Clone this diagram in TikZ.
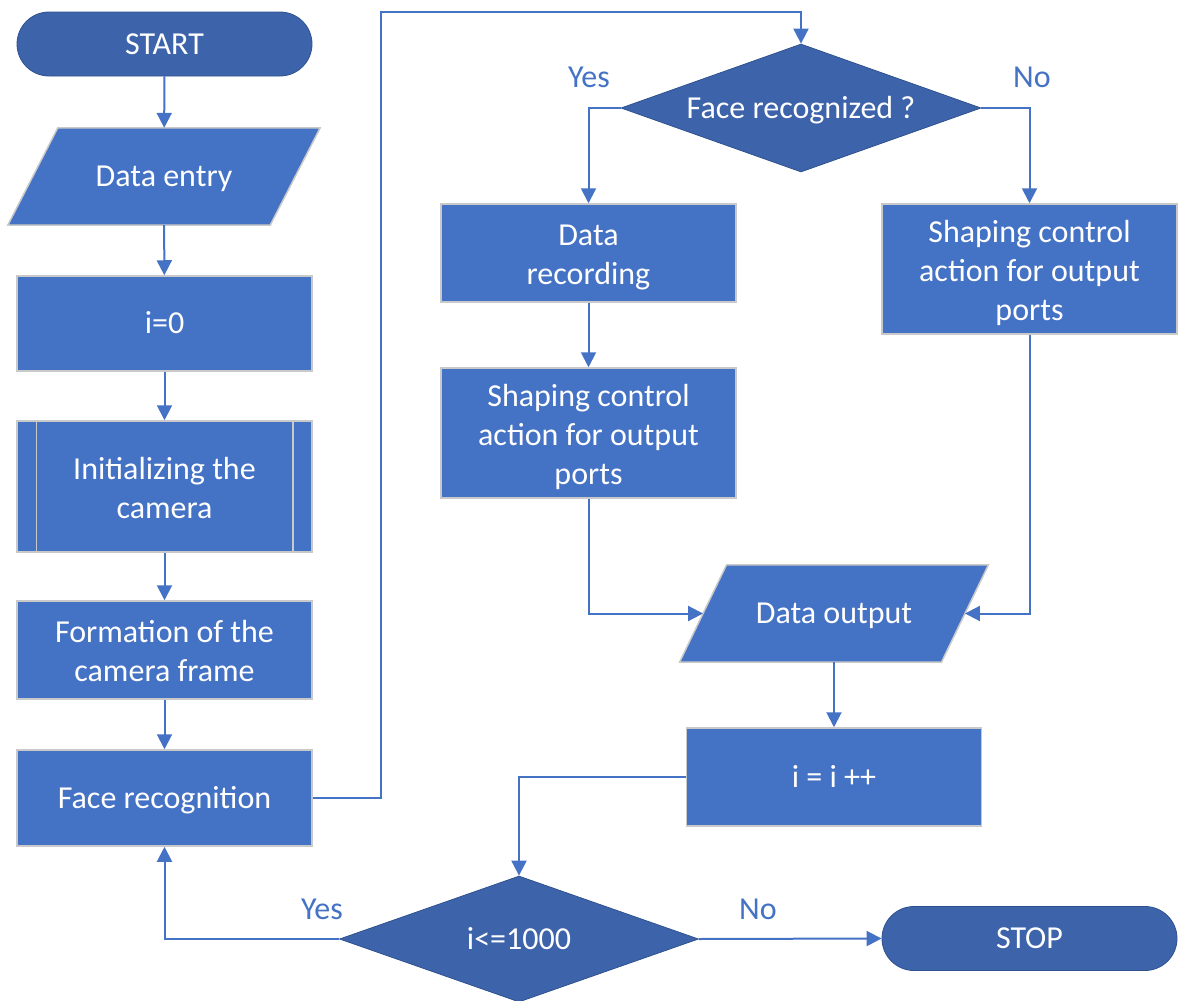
\documentclass[tikz,border=0pt]{standalone}
\usepackage{fontspec}
\setmainfont{Carlito}
\usetikzlibrary{arrows.meta,shapes.geometric,backgrounds}
\definecolor{boxblue}{HTML}{4472C4}
\definecolor{darkblue}{HTML}{3D63AA}
\definecolor{edgeblue}{HTML}{2F528F}
\definecolor{boxedge}{HTML}{C9C9C9}
\newcommand\myvstrut{\rule[-7pt]{0pt}{34.5pt}}
\newcommand\mytwostrut{\rule[-7pt]{0pt}{77pt}}
\newcommand\mythreestrut{\rule[-7pt]{0pt}{117pt}}
\begin{document}
\begin{tikzpicture}[x=1pt,y=-1pt,
 every node/.style={font=\fontsize{32}{39}\selectfont, text=white, align=center, inner sep=0pt},
 one/.style={execute at begin node=\myvstrut, execute at end node=\myvstrut},
 two/.style={execute at begin node=\mytwostrut},
 three/.style={execute at begin node=\mythreestrut},
 procbox/.style={rectangle, fill=boxblue, draw=boxedge, line width=1.5pt, minimum width=295pt},
 term/.style={one, rectangle, rounded corners=32pt, fill=darkblue, draw=edgeblue, line width=0.8pt, minimum width=295pt, minimum height=64pt},
 decision/.style={one, diamond, fill=darkblue, draw=edgeblue, line width=0.8pt, shape aspect=2.8},
 io/.style={one, rectangle, minimum height=97pt},
 iofill/.style={fill=boxblue, draw=boxedge, line width=1.5pt},
 innerline/.style={draw=boxedge, line width=1.5pt},
 flow/.style={draw=boxblue, line width=2pt, -{Triangle[length=15pt,width=15pt]}},
 lbl/.style={one, text=boxblue},
]
\useasboundingbox (0,0) rectangle (1179,1001);

\node[term] (start) at (164.5,44) {START};
\node[io, minimum width=262pt] (entry) at (164,176.5) {Data entry};
\node[procbox, one, minimum height=95pt] (i0) at (164.5,323.5) {i=0};
\node[procbox, two, minimum height=131pt] (init) at (164.5,486.5) {Initializing the\\camera};
\node[procbox, two, minimum height=98pt] (form) at (164.5,650) {Formation of the\\camera frame};
\node[procbox, one, minimum height=96pt] (facerec) at (164.5,798) {Face recognition};

\node[decision, minimum width=360pt, minimum height=128pt] (frq) at (801,108) {Face recognized ?};
\node[procbox, two, minimum height=98pt] (rec) at (588.5,253) {Data\\recording};
\node[procbox, three, minimum height=130pt] (shapeL) at (588.5,433) {Shaping control\\action for output\\ports};
\node[procbox, three, minimum height=130pt] (shapeR) at (1029.5,269) {Shaping control\\action for output\\ports};
\node[io, minimum width=261.5pt] (out) at (834,613.5) {Data output};
\node[procbox, one, minimum height=98pt] (inc) at (834,777) {i = i ++};
\node[decision, minimum width=359pt, minimum height=126pt] (cond) at (519,939) {i<=1000};
\node[term] (stop) at (1029.5,938.5) {STOP};

\begin{pgfonlayer}{background}
\path[iofill] ([xshift=25pt]entry.north west) -- ([xshift=25pt]entry.north east)
  -- ([xshift=-25pt]entry.south east) -- ([xshift=-25pt]entry.south west) -- cycle;
\path[iofill] ([xshift=23.5pt]out.north west) -- ([xshift=23.5pt]out.north east)
  -- ([xshift=-23.5pt]out.south east) -- ([xshift=-23.5pt]out.south west) -- cycle;
\end{pgfonlayer}

\draw[innerline] ([xshift=20pt]init.north west) -- ([xshift=20pt]init.south west);
\draw[innerline] ([xshift=-20pt]init.north east) -- ([xshift=-20pt]init.south east);

\node[lbl] (yes1) at (589,77) {Yes};
\node[lbl] (no1) at (1032,77) {No};
\node[lbl] (yes2) at (322,909) {Yes};
\node[lbl] (no2) at (758,909) {No};

\coordinate (loopA) at (381,12);

\draw[flow] (start) -- (entry);
\draw[flow] (entry) -- (i0);
\draw[flow] (i0) -- (init);
\draw[flow] (init) -- (form);
\draw[flow] (form) -- (facerec);
\draw[flow] (facerec.east) -| (loopA) -| (frq.north);
\draw[flow] (frq.west) -| (rec.north);
\draw[flow] (frq.east) -| (shapeR.north);
\draw[flow] (rec) -- (shapeL);
\draw[flow] (shapeL.south) |- (out.west);
\draw[flow] (shapeR.south) |- (out.east);
\draw[flow] (out) -- (inc);
\draw[flow] (inc.west) -| (cond.north);
\draw[flow] (cond.west) -| (facerec.south);
\draw[flow] (cond.east) -- (stop.west);
\end{tikzpicture}
\end{document}
